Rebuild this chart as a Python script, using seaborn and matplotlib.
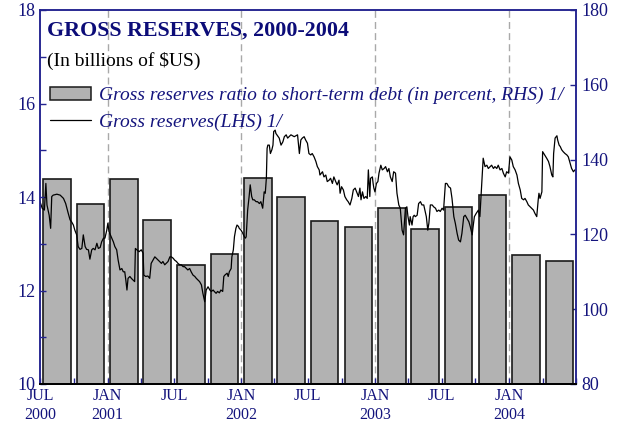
import pandas as pd
import matplotlib
matplotlib.use("Agg")
import matplotlib.pyplot as plt
import seaborn as sns
from matplotlib.patches import Patch
from matplotlib.lines import Line2D
from matplotlib.ticker import MultipleLocator

# ------------------------------
# Data
# ------------------------------
START = pd.Timestamp("2000-07-01")
END = pd.Timestamp("2004-07-01")

quarters = ["2000Q3", "2000Q4", "2001Q1", "2001Q2", "2001Q3", "2001Q4",
            "2002Q1", "2002Q2", "2002Q3", "2002Q4", "2003Q1", "2003Q2",
            "2003Q3", "2003Q4", "2004Q1", "2004Q2"]
# gross reserves / short-term debt, percent (RHS)
ratio_rhs = [134.8, 128.1, 134.8, 123.9, 111.8, 114.7, 135.2, 130.1,
             123.5, 122.0, 127.0, 121.4, 127.3, 130.5, 114.6, 112.9]

# gross reserves, billions of $US (LHS); days counted from 1 Jul 2000
res_days = [0, 6, 12, 16, 19, 25, 29, 32, 36, 46, 55, 64, 70, 77, 82, 86, 91, 95, 100, 104,
            109, 114, 118, 123, 127, 132, 136, 141, 145, 150, 155, 159, 164, 168, 173, 177, 182, 185, 188, 194,
            200, 204, 209, 213, 218, 223, 227, 231, 234, 237, 240, 245, 249, 254, 258, 260, 264, 270, 276, 281,
            283, 288, 294, 299, 303, 308, 313, 317, 322, 326, 331, 335, 340, 344, 349, 354, 358, 363, 367, 372,
            376, 381, 385, 390, 394, 399, 403, 408, 412, 417, 422, 426, 431, 435, 440, 444, 449, 453, 458, 463,
            467, 472, 475, 480, 484, 489, 493, 498, 501, 504, 510, 513, 516, 521, 523, 527, 530, 534, 537, 541,
            543, 548, 553, 557, 560, 562, 566, 570, 573, 577, 580, 584, 589, 593, 598, 602, 607, 611, 614, 617,
            619, 621, 625, 628, 632, 635, 637, 641, 643, 652, 657, 662, 666, 671, 675, 684, 693, 702, 707, 711,
            715, 720, 724, 729, 733, 738, 742, 747, 752, 756, 761, 763, 767, 770, 774, 779, 783, 788, 792, 797,
            801, 806, 810, 815, 818, 822, 827, 831, 836, 840, 845, 850, 854, 859, 863, 868, 872, 875, 879, 883,
            888, 892, 895, 899, 901, 906, 908, 910, 913, 917, 921, 924, 929, 933, 938, 942, 947, 951, 955, 960,
            964, 969, 973, 978, 982, 987, 991, 996, 1000, 1003, 1007, 1009, 1014, 1017, 1020, 1023, 1028, 1032, 1037, 1041,
            1046, 1050, 1053, 1057, 1060, 1064, 1069, 1073, 1078, 1082, 1087, 1091, 1096, 1100, 1105, 1109, 1114, 1119, 1123, 1128,
            1132, 1137, 1141, 1146, 1150, 1155, 1159, 1164, 1169, 1173, 1178, 1180, 1184, 1189, 1195, 1199, 1208, 1213, 1218, 1222,
            1227, 1231, 1236, 1240, 1245, 1249, 1254, 1259, 1263, 1268, 1272, 1277, 1281, 1286, 1290, 1295, 1300, 1304, 1309, 1313,
            1318, 1322, 1327, 1331, 1336, 1340, 1345, 1349, 1354, 1358, 1360, 1363, 1368, 1370, 1381, 1386, 1390, 1395, 1398, 1400,
            1404, 1409, 1411, 1415, 1418, 1422, 1426, 1431, 1436, 1440, 1445, 1449, 1454, 1458]
res_lhs = [13.90, 13.76, 13.72, 14.29, 13.83, 13.61, 13.33, 14.01, 14.04, 14.06, 14.04, 13.97, 13.86, 13.65, 13.51, 13.47, 13.40, 13.29, 13.19, 12.94,
           12.88, 12.90, 13.19, 12.94, 12.88, 12.87, 12.67, 12.87, 12.90, 12.87, 13.01, 12.90, 12.92, 13.04, 13.12, 13.12, 13.29, 13.44, 13.26, 13.15,
           13.04, 12.94, 12.87, 12.65, 12.44, 12.47, 12.40, 12.40, 12.22, 12.01, 12.26, 12.30, 12.26, 12.22, 12.19, 12.90, 12.87, 12.83, 12.87, 12.80,
           12.33, 12.30, 12.31, 12.26, 12.58, 12.65, 12.72, 12.69, 12.65, 12.62, 12.58, 12.62, 12.55, 12.58, 12.62, 12.72, 12.72, 12.69, 12.65, 12.62,
           12.58, 12.55, 12.55, 12.51, 12.51, 12.47, 12.44, 12.47, 12.40, 12.33, 12.30, 12.26, 12.22, 12.19, 12.12, 11.94, 11.76, 12.01, 12.08, 12.01,
           11.98, 12.01, 11.98, 11.94, 11.98, 11.95, 12.01, 11.98, 12.30, 12.33, 12.37, 12.30, 12.40, 12.47, 12.72, 12.87, 13.15, 13.33, 13.40, 13.37,
           13.33, 13.29, 13.22, 13.15, 13.12, 13.15, 13.72, 14.01, 14.26, 14.01, 13.94, 13.94, 13.90, 13.90, 13.86, 13.90, 13.76, 14.11, 14.08, 14.40,
           15.04, 15.11, 15.11, 14.93, 15.01, 15.11, 15.40, 15.43, 15.36, 15.26, 15.11, 15.18, 15.29, 15.33, 15.26, 15.33, 15.29, 15.33, 14.93, 15.22,
           15.26, 15.29, 15.22, 15.15, 14.93, 14.90, 14.93, 14.86, 14.76, 14.65, 14.58, 14.47, 14.51, 14.54, 14.43, 14.47, 14.33, 14.36, 14.40, 14.29,
           14.43, 14.33, 14.26, 14.36, 14.08, 14.22, 14.15, 14.01, 13.94, 13.90, 13.83, 13.97, 14.15, 14.19, 14.11, 14.01, 14.19, 13.94, 14.11, 13.97,
           14.01, 13.97, 14.58, 14.01, 14.40, 14.43, 14.29, 14.19, 14.11, 14.29, 14.33, 14.51, 14.68, 14.58, 14.61, 14.65, 14.54, 14.61, 14.43, 14.33,
           14.54, 14.51, 14.08, 13.83, 13.76, 13.29, 13.19, 13.76, 13.79, 13.58, 13.40, 13.58, 13.40, 13.58, 13.61, 13.58, 13.61, 13.86, 13.90, 13.83,
           13.83, 13.69, 13.58, 13.29, 13.44, 13.83, 13.83, 13.79, 13.76, 13.69, 13.72, 13.69, 13.76, 13.72, 14.29, 14.29, 14.22, 14.19, 13.97, 13.58,
           13.44, 13.22, 13.08, 13.04, 13.22, 13.58, 13.61, 13.54, 13.47, 13.36, 13.19, 13.33, 13.58, 13.65, 13.72, 13.58, 14.83, 14.65, 14.68, 14.61,
           14.65, 14.68, 14.61, 14.65, 14.61, 14.68, 14.58, 14.61, 14.51, 14.43, 14.54, 14.51, 14.86, 14.79, 14.65, 14.58, 14.47, 14.29, 14.15, 13.97,
           13.94, 13.97, 13.90, 13.83, 13.79, 13.76, 13.72, 13.65, 13.58, 13.94, 14.08, 13.97, 14.11, 14.97, 14.83, 14.76, 14.65, 14.47, 14.43, 14.93,
           15.26, 15.31, 15.22, 15.11, 15.08, 15.01, 14.97, 14.93, 14.90, 14.86, 14.72, 14.61, 14.54, 14.58]

x_tick_labels = ["JUL\n2000", "JAN\n2001", "JUL", "JAN\n2002", "JUL",
                 "JAN\n2003", "JUL", "JAN\n2004", ""]

NAVY = "#23238f"
TXT = "#14147d"

# ------------------------------
# Figure
# ------------------------------
sns.set_style("ticks")
plt.rcParams["font.family"] = ["Liberation Serif", "DejaVu Serif"]


def to_days(ts):
    return ((ts - START) / pd.Timedelta(days=1))


per = pd.PeriodIndex(quarters, freq="Q")
q_mid = per.start_time + (per.end_time - per.start_time) / 2
bars_df = pd.DataFrame({"x": to_days(q_mid).to_numpy(), "ratio": ratio_rhs})
line_df = pd.DataFrame({"x": res_days, "reserves": res_lhs})

half_years = to_days(pd.date_range(START, END, freq="6MS")).to_numpy()
quarter_starts = to_days(pd.date_range(START, END, freq="QS")).to_numpy()
januaries = to_days(pd.date_range("2001-01-01", "2004-01-01", freq="YS")).to_numpy()

fig = plt.figure(figsize=(6.25, 4.34), dpi=100)
ax = fig.add_axes([40 / 625, 1 - 384 / 434, 536 / 625, 374 / 434])
ax2 = ax.twinx()
ax.set_zorder(ax2.get_zorder() + 1)
ax.patch.set_visible(False)

for d in januaries:
    ax2.axvline(d, color="#a9a9a9", lw=1.0, ls=(0, (5, 3)), zorder=0)

sns.barplot(data=bars_df, x="x", y="ratio", native_scale=True, width=0.83,
            color="#b2b2b2", saturation=1, edgecolor="#1a1a1a", linewidth=1.2,
            errorbar=None, ax=ax2)
sns.lineplot(data=line_df, x="x", y="reserves", color="black", lw=0.9,
             estimator=None, ax=ax)

ax.set_xlim(0, to_days(END))
ax.set_ylim(10, 18)
ax2.set_ylim(80, 180)
ax.set_xlabel("")
ax.set_ylabel("")
ax2.set_xlabel("")
ax2.set_ylabel("")

# axes styling
for a in (ax, ax2):
    for side in ("left", "right", "top"):
        a.spines[side].set_visible(True)
        a.spines[side].set_color(NAVY)
        a.spines[side].set_linewidth(1.1)
    a.spines["bottom"].set_color("black")
    a.spines["bottom"].set_linewidth(1.4)

ax.yaxis.set_major_locator(MultipleLocator(2))
ax.yaxis.set_minor_locator(MultipleLocator(1))
ax.tick_params(axis="y", which="both", direction="in", color=NAVY, labelcolor=TXT,
               length=4, width=1, labelsize=13, pad=3, left=True, right=False)
ax2.set_yticks(range(80, 181, 20))
ax2.tick_params(axis="y", direction="in", color=NAVY, labelcolor=TXT,
                length=4, width=1, labelsize=13, pad=4)

ax.set_xticks(half_years, labels=x_tick_labels)
ax.set_xticks(quarter_starts, minor=True)
ax.tick_params(axis="x", which="both", direction="in", color=NAVY, labelcolor=TXT,
               length=4, width=1, labelsize=11.5, pad=3, top=False)

# titles
ax.text(0.013, 0.944, "GROSS RESERVES, 2000-2004", transform=ax.transAxes,
        ha="left", va="center", fontsize=15.8, fontweight="bold", color="#0c0c78")
ax.text(0.013, 0.864, "(In billions of $US)", transform=ax.transAxes,
        ha="left", va="center", fontsize=14, color="black")

handles = [Patch(facecolor="#b2b2b2", edgecolor="#1a1a1a", linewidth=1.1),
           Line2D([], [], color="black", lw=0.9)]
labels = ["Gross reserves ratio to short-term debt (in percent, RHS) 1/",
          "Gross reserves(LHS) 1/"]
ax.legend(handles, labels, loc="upper left", bbox_to_anchor=(0.0187, 0.795),
          frameon=False, borderpad=0, borderaxespad=0, handlelength=2.1,
          handletextpad=0.4, labelspacing=0.45, labelcolor=TXT,
          prop=dict(family="Liberation Serif", style="italic", size=14))

fig.savefig("out.png", dpi=100)
